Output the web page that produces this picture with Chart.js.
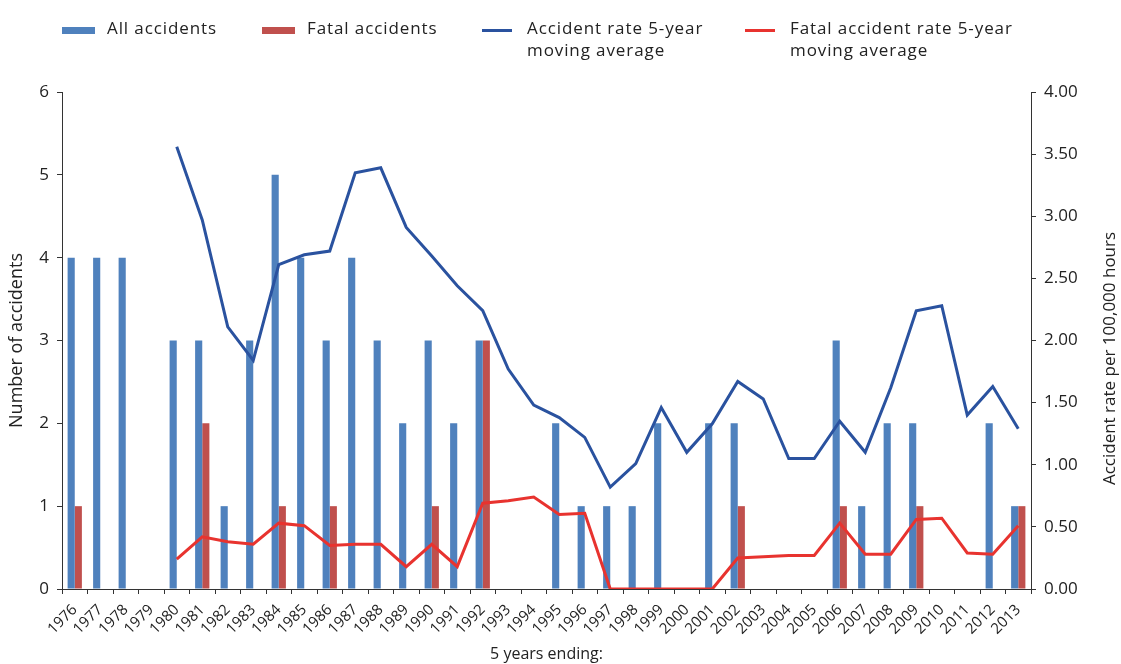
<!DOCTYPE html>
<html>
<head>
<meta charset="utf-8">
<title>Accidents, 5 years ending</title>
<script src="https://cdn.jsdelivr.net/npm/chart.js@4.4.0/dist/chart.umd.min.js"></script>
<style>
  html, body { margin: 0; padding: 0; background: #fff; }
  #wrap { position: relative; width: 1121px; height: 664px; font-family: 'Open Sans', sans-serif; color: #222; }
  #chart { position: absolute; left: 0; top: 0; }
  .lg-text { position: absolute; font-size: 17px; line-height: 22px; letter-spacing: 0.9px; white-space: nowrap; }
  .lg-swatch { position: absolute; }
</style>
</head>
<body>
<div id="wrap">
  <canvas id="chart" width="1121" height="664"></canvas>
  <div id="legend"></div>
</div>
<script>
// categories: 5 years ending
const years = ['1976', '1977', '1978', '1979', '1980', '1981', '1982', '1983', '1984', '1985',
  '1986', '1987', '1988', '1989', '1990', '1991', '1992', '1993', '1994', '1995',
  '1996', '1997', '1998', '1999', '2000', '2001', '2002', '2003', '2004', '2005',
  '2006', '2007', '2008', '2009', '2010', '2011', '2012', '2013'];

// bars (left axis)
const allAccidents = [4, 4, 4, 0, 3, 3, 1, 3, 5, 4,
  3, 4, 3, 2, 3, 2, 3, 0, 0, 2,
  1, 1, 1, 2, 0, 2, 2, 0, 0, 0,
  3, 1, 2, 2, 0, 0, 2, 1];
const fatalAccidents = [1, 0, 0, 0, 0, 2, 0, 0, 1, 0,
  1, 0, 0, 0, 1, 0, 3, 0, 0, 0,
  0, 0, 0, 0, 0, 0, 1, 0, 0, 0,
  1, 0, 0, 1, 0, 0, 0, 1];

// 5-year moving averages (right axis, per 100,000 hours)
const accidentRate = [null, null, null, null, 3.56, 2.97, 2.11, 1.84, 2.61, 2.69,
  2.72, 3.35, 3.39, 2.91, 2.68, 2.44, 2.24, 1.77, 1.48, 1.38,
  1.22, 0.82, 1.01, 1.46, 1.10, 1.33, 1.67, 1.53, 1.05, 1.05,
  1.35, 1.10, 1.62, 2.24, 2.28, 1.40, 1.63, 1.29];
const fatalRate = [null, null, null, null, 0.24, 0.42, 0.38, 0.36, 0.53, 0.51,
  0.35, 0.36, 0.36, 0.18, 0.36, 0.18, 0.69, 0.71, 0.74, 0.60,
  0.61, 0, 0, 0, 0, 0, 0.25, 0.26, 0.27, 0.27,
  0.53, 0.28, 0.28, 0.56, 0.57, 0.29, 0.28, 0.51];

const seriesNames = ['All accidents', 'Fatal accidents',
  ['Accident rate 5-year', 'moving average'],
  ['Fatal accident rate 5-year', 'moving average']];

const barBlue = '#4F81BD';
const barRed = '#C0504D';
const lineBlue = '#2A529F';
const lineRed = '#E8332F';
const axisColor = '#333';
const textColor = '#222';

Chart.defaults.font.family = "'Open Sans', sans-serif";
Chart.defaults.color = textColor;

// right axis title reads bottom-to-top, so draw it ourselves
const rightTitle = {
  id: 'rightTitle',
  afterDraw(chart) {
    const ctx = chart.ctx;
    const area = chart.chartArea;
    ctx.save();
    ctx.translate(chart.width - 11, (area.top + area.bottom) / 2 + 18);
    ctx.rotate(-Math.PI / 2);
    ctx.font = "17px 'Open Sans', sans-serif";
    ctx.fillStyle = textColor;
    ctx.textAlign = 'center';
    ctx.textBaseline = 'middle';
    ctx.fillText('Accident rate per 100,000 hours', 0, 0);
    ctx.restore();
  }
};

const chart = new Chart(document.getElementById('chart'), {
  data: {
    labels: years,
    datasets: [
      {
        type: 'line',
        label: seriesNames[2].join(' '),
        data: accidentRate,
        yAxisID: 'y1',
        borderColor: lineBlue,
        backgroundColor: lineBlue,
        borderWidth: 3,
        pointRadius: 0,
        tension: 0,
        order: 0
      },
      {
        type: 'line',
        label: seriesNames[3].join(' '),
        data: fatalRate,
        yAxisID: 'y1',
        borderColor: lineRed,
        backgroundColor: lineRed,
        borderWidth: 3,
        pointRadius: 0,
        tension: 0,
        order: 0
      },
      {
        type: 'bar',
        label: seriesNames[0],
        data: allAccidents,
        yAxisID: 'y',
        backgroundColor: barBlue,
        categoryPercentage: 0.56,
        barPercentage: 1,
        order: 1
      },
      {
        type: 'bar',
        label: seriesNames[1],
        data: fatalAccidents,
        yAxisID: 'y',
        backgroundColor: barRed,
        categoryPercentage: 0.56,
        barPercentage: 1,
        order: 1
      }
    ]
  },
  options: {
    responsive: false,
    animation: false,
    devicePixelRatio: 1,
    layout: { padding: { top: 92, left: 0, right: 0, bottom: 0 } },
    plugins: {
      legend: { display: false },
      tooltip: { enabled: false }
    },
    scales: {
      x: {
        offset: true,
        grid: { drawOnChartArea: false, offset: true, tickLength: 5, color: axisColor },
        border: { color: axisColor },
        ticks: { autoSkip: false, minRotation: 45, maxRotation: 45, padding: 7, font: { size: 15 }, color: textColor },
        title: { display: true, text: '5 years ending:', font: { size: 16 }, padding: { top: 0, bottom: 0 }, color: textColor },
        afterFit: s => { s.height = 75; }
      },
      y: {
        position: 'left',
        min: 0,
        max: 6,
        grid: { drawOnChartArea: false, tickLength: 5, color: axisColor },
        border: { color: axisColor },
        ticks: { stepSize: 1, padding: 8, font: { size: 17 }, color: textColor },
        title: { display: true, text: 'Number of accidents', font: { size: 18 }, padding: { top: 6 }, color: textColor },
        afterFit: s => { s.width = 62; }
      },
      y1: {
        position: 'right',
        min: 0,
        max: 4,
        grid: { drawOnChartArea: false, tickLength: 5, color: axisColor },
        border: { color: axisColor },
        ticks: { stepSize: 0.5, padding: 8, font: { size: 17 }, color: textColor, callback: v => v.toFixed(2) },
        afterFit: s => { s.width = 90; }
      }
    }
  },
  plugins: [rightTitle]
});

// legend above the plot
const legendX = [62, 262, 482, 745];
const legendSwatch = [
  { color: barBlue, w: 33, h: 7, top: 27 },
  { color: barRed, w: 33, h: 7, top: 27 },
  { color: lineBlue, w: 30, h: 3, top: 29 },
  { color: lineRed, w: 30, h: 3, top: 29 }
];
const legend = document.getElementById('legend');
seriesNames.forEach((name, i) => {
  const sw = document.createElement('div');
  sw.className = 'lg-swatch';
  sw.style.left = legendX[i] + 'px';
  sw.style.top = legendSwatch[i].top + 'px';
  sw.style.width = legendSwatch[i].w + 'px';
  sw.style.height = legendSwatch[i].h + 'px';
  sw.style.background = legendSwatch[i].color;
  legend.appendChild(sw);

  const lines = Array.isArray(name) ? name : [name];
  const tx = document.createElement('div');
  tx.className = 'lg-text';
  tx.style.left = (legendX[i] + 45) + 'px';
  tx.style.top = '17px';
  tx.innerHTML = lines.join('<br>');
  legend.appendChild(tx);
});
</script>
</body>
</html>
